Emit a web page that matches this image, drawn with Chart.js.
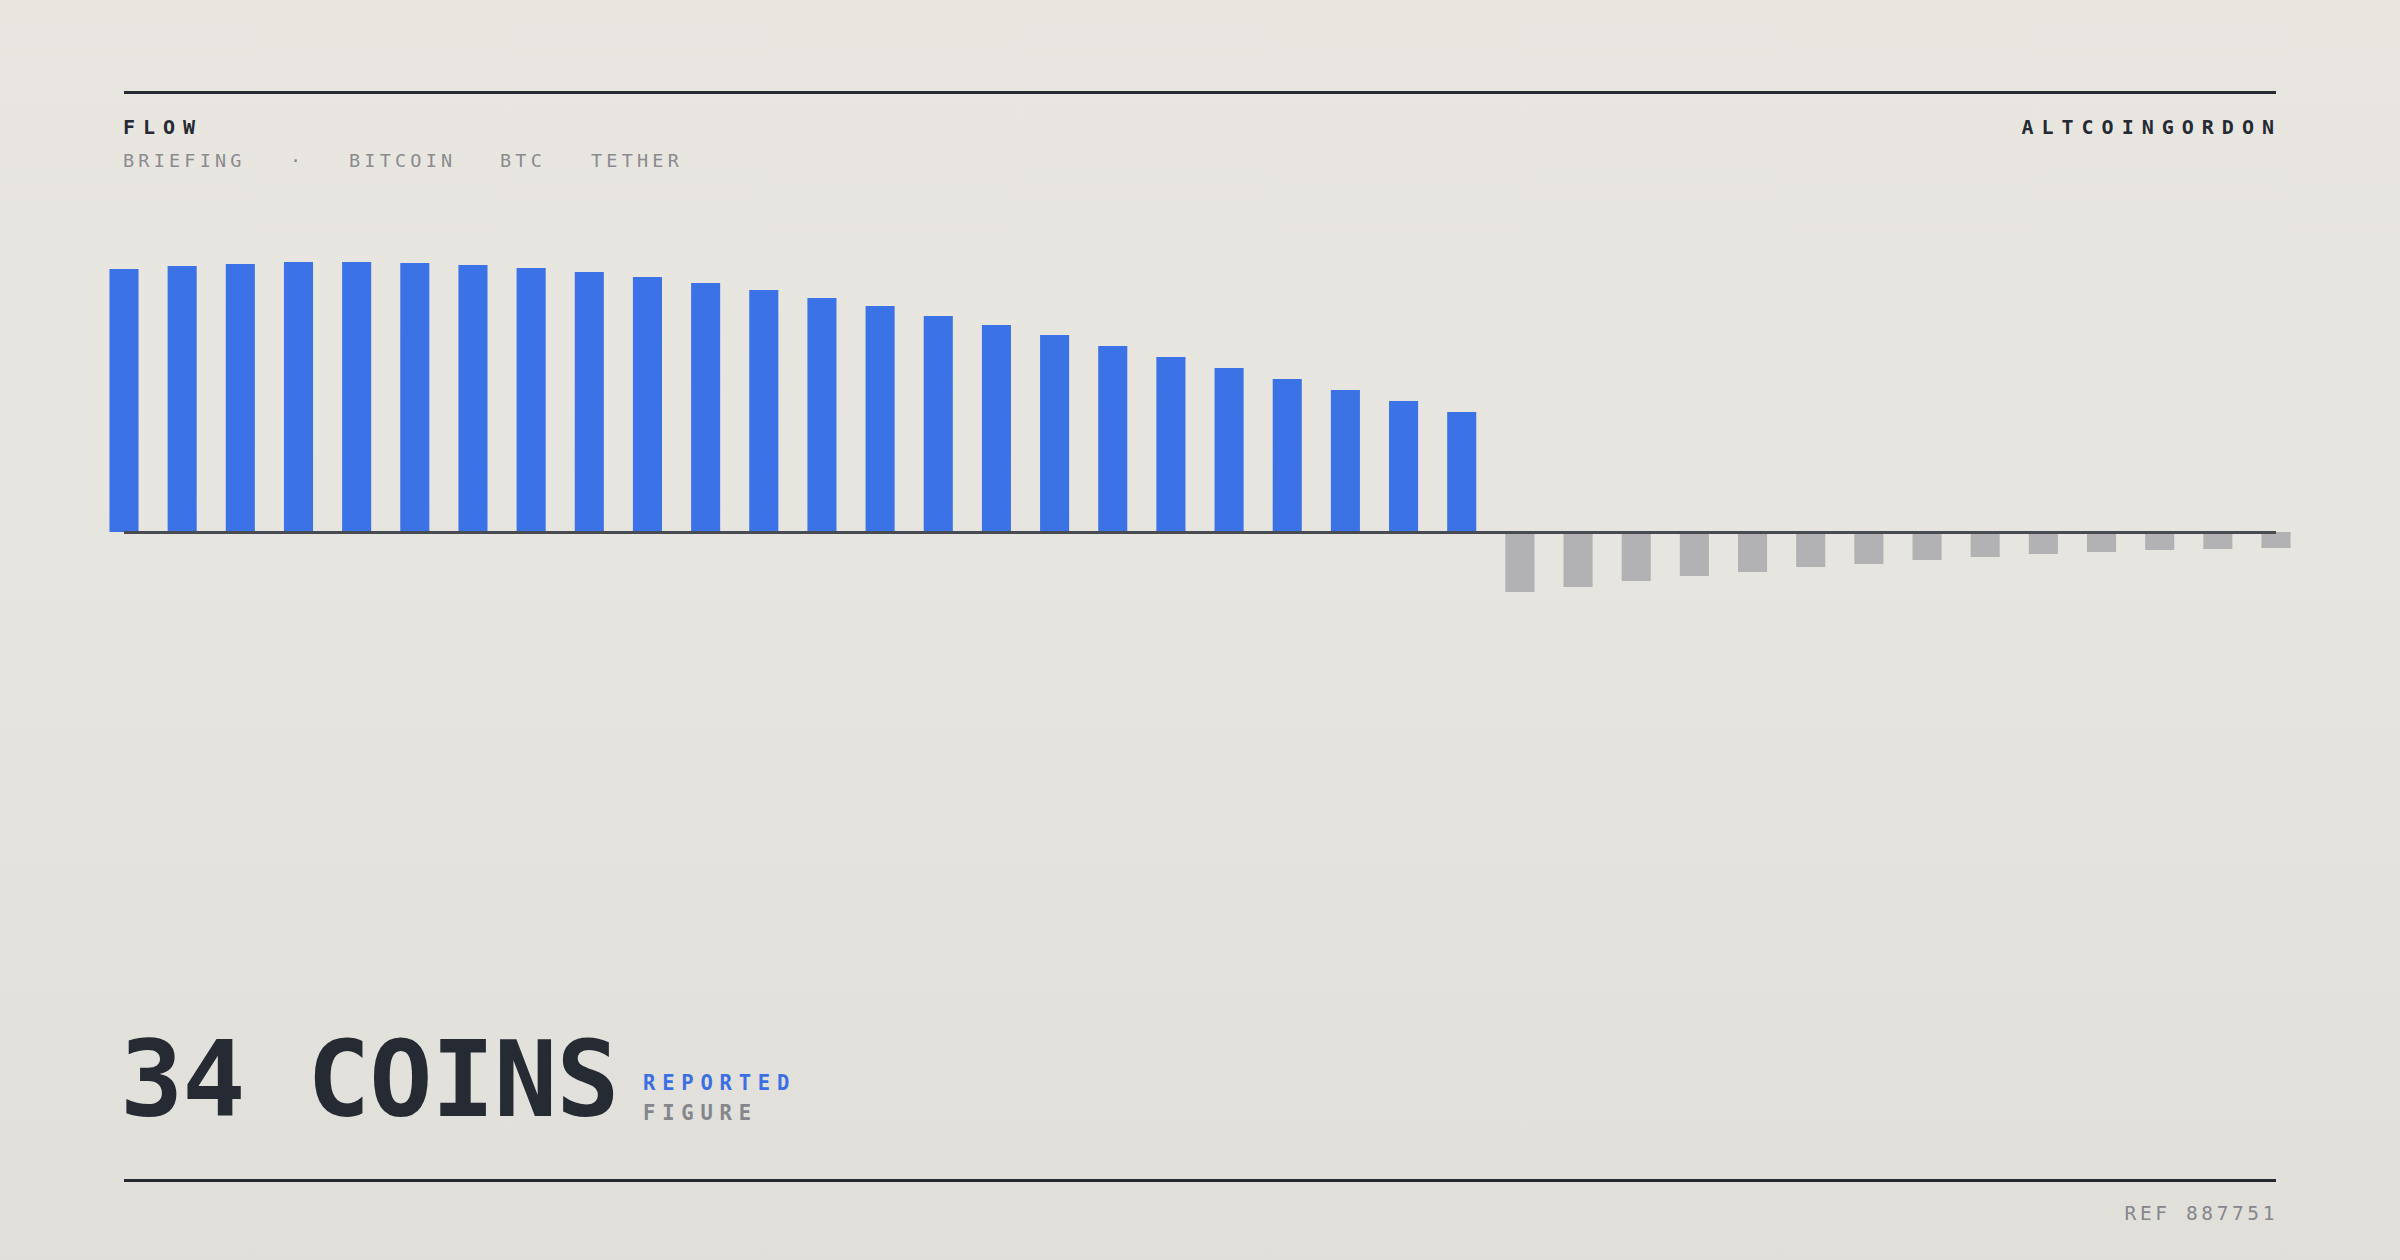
<!DOCTYPE html>
<html>
<head>
<meta charset="utf-8">
<script src="https://cdn.jsdelivr.net/npm/chart.js@4/dist/chart.umd.min.js"></script>
<style>
  html, body { margin: 0; padding: 0; }
  body {
    width: 2400px; height: 1260px; overflow: hidden; position: relative;
    background: linear-gradient(180deg, #E9E6E0 0%, #E7E5DF 45%, #E0DFDA 100%);
    font-family: "DejaVu Sans Mono", "Liberation Mono", monospace;
  }
  .rule { position: absolute; left: 124px; width: 2152px; height: 3px; background: #262A33; }
  .t { position: absolute; line-height: 1; white-space: pre; }
  #chartWrap { position: absolute; left: 0; top: 200px; width: 2400px; height: 600px; }
</style>
</head>
<body>
<div class="rule" style="top:91px"></div>
<div class="t" style="left:123px; top:117px; font-size:20px; font-weight:bold; letter-spacing:8px; color:#262A33">FLOW</div>
<div class="t" style="right:118px; top:117px; font-size:20px; font-weight:bold; letter-spacing:8px; color:#262A33">ALTCOINGORDON</div>

<div class="t" style="left:123px; top:152px; font-size:18.5px; letter-spacing:4.2px; color:#8A8B90">BRIEFING</div>
<div class="t" style="left:290px; top:152px; font-size:18.5px; letter-spacing:4.2px; color:#8A8B90">·</div>
<div class="t" style="left:349px; top:152px; font-size:18.5px; letter-spacing:4.2px; color:#8A8B90">BITCOIN</div>
<div class="t" style="left:500px; top:152px; font-size:18.5px; letter-spacing:4.2px; color:#8A8B90">BTC</div>
<div class="t" style="left:591px; top:152px; font-size:18.5px; letter-spacing:4.2px; color:#8A8B90">TETHER</div>

<div id="chartWrap"><canvas id="c" width="2400" height="600"></canvas></div>
<div id="zero" style="position:absolute; left:124px; width:2152px; top:530.5px; height:3px; background:#484B52"></div>

<div class="t" style="left:120px; top:1028px; font-size:105px; font-weight:bold; letter-spacing:-0.9px; color:#262A33">34 COINS</div>
<div class="t" style="left:643px; top:1072.5px; font-size:20.5px; font-weight:bold; letter-spacing:6.8px; color:#3B6FE3">REPORTED</div>
<div class="t" style="left:643px; top:1102.5px; font-size:20.5px; font-weight:bold; letter-spacing:6.8px; color:#85868C">FIGURE</div>

<div class="rule" style="top:1179px"></div>
<div class="t" style="right:122px; top:1203.5px; font-size:19.5px; letter-spacing:3.6px; color:#86878C">REF 887751</div>

<script>
const categories = ["01","02","03","04","05","06","07","08","09","10","11","12","13","14","15","16","17","18","19","20","21","22","23","24","25","26","27","28","29","30","31","32","33","34","35","36","37","38"];
const inflowValues = [26.3, 26.6, 26.8, 27.0, 27.0, 26.9, 26.7, 26.4, 26.0, 25.5, 24.9, 24.2, 23.4, 22.6, 21.6, 20.7, 19.7, 18.6, 17.5, 16.4, 15.3, 14.2, 13.1, 12.0];
const outflowValues = [-6.0, -5.5, -4.9, -4.4, -4.0, -3.5, -3.2, -2.8, -2.5, -2.2, -2.0, -1.8, -1.7, -1.6];
const flowValues = inflowValues.concat(outflowValues);
const yRange = { min: -20, max: 27 };

const BLUE = "#3B73E6";
const GRAY = "#B2B2B4";

new Chart(document.getElementById("c"), {
  type: "bar",
  data: {
    labels: categories,
    datasets: [{
      data: flowValues,
      backgroundColor: (ctx) => (ctx.raw >= 0 ? BLUE : GRAY),
      borderWidth: 0,
      categoryPercentage: 1,
      barPercentage: 0.5,
      clip: false
    }]
  },
  options: {
    responsive: false,
    animation: false,
    devicePixelRatio: 1,
    layout: { padding: { left: 124, right: 124, top: 62, bottom: 68 } },
    plugins: { legend: { display: false }, tooltip: { enabled: false } },
    scales: {
      x: { display: false, offset: false },
      y: { display: false, min: yRange.min, max: yRange.max }
    }
  }
});
</script>
</body>
</html>
